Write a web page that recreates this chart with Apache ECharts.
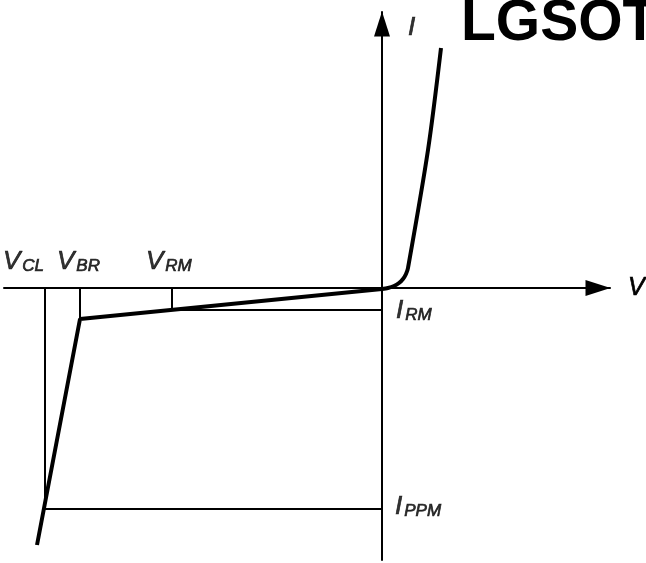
<!DOCTYPE html>
<html>
<head>
<meta charset="utf-8">
<title>TVS I-V characteristic</title>
<script src="https://cdn.jsdelivr.net/npm/echarts@6/dist/echarts.min.js"></script>
<style>
  html, body { margin: 0; padding: 0; background: #fff; }
  #main { width: 646px; height: 563px; }
</style>
</head>
<body>
<div id="main"></div>
<script>
    // 特征点 (V, I)
    var vCL = -33.7, vBR = -30.2, vRM = -21.0;
    var iRM = -2.2, iPPM = -22.1;

    // 反向曲线：击穿区 -> 原点
    var reverseCurve = [[-34.5, -25.7], [-30.2, -3.1], [0, -0.1]];
    // 正向曲线
    var forwardCurve = [[0, -0.1], [0.6, 0], [1.2, 0.2], [1.7, 0.5], [2.1, 0.9],
                        [2.4, 1.4], [2.6, 2.0], [4.6, 13.8], [5.9, 24.0]];

    // 参考线段
    var guides = [
        [[vCL, 0], [vCL, iPPM]],
        [[vBR, 0], [vBR, -3.1]],
        [[vRM, 0], [vRM, iRM]],
        [[vRM, iRM], [0, iRM]],
        [[vCL, iPPM], [0, iPPM]]
    ];

    // 文字标注：名称, 下标, 位置
    var labelNames = ['V', 'V', 'V', 'I', 'I', 'I'];
    var labelSubs = ['CL', 'BR', 'RM', '', 'RM', 'PPM'];
    var labelPos = [[-37.9, 2.6], [-32.5, 2.6], [-23.6, 2.6], [2.6, 26.0], [1.4, -2.3], [1.3, -21.9]];

    var myChart = echarts.init(document.getElementById('main'));

    var lineSeries = [];
    guides.forEach(function (seg) {
        lineSeries.push({
            type: 'line',
            data: seg,
            showSymbol: false,
            silent: true,
            lineStyle: { color: '#000', width: 2 }
        });
    });

    var txt = { fontFamily: 'Liberation Sans', fontStyle: 'italic', color: '#000', textBorderColor: '#000', textBorderWidth: 0.7 };

    var option = {
        backgroundColor: '#fff',
        animation: false,
        grid: { left: 4, right: 36, top: 12, bottom: 3, containLabel: false, outerBoundsMode: 'none' },
        xAxis: {
            type: 'value',
            min: -37.8,
            max: 22.8,
            name: 'V',
            nameLocation: 'end',
            nameGap: 18,
            nameTextStyle: Object.assign({ fontSize: 25 }, txt),
            axisLine: { onZero: true, lineStyle: { color: '#000', width: 2 }, symbol: ['none', 'triangle'], symbolSize: [16, 25], symbolOffset: [0, -12] },
            axisTick: { show: false },
            axisLabel: { show: false },
            splitLine: { show: false }
        },
        yAxis: {
            type: 'value',
            min: -27.2,
            max: 27.6,
            axisLine: { onZero: true, lineStyle: { color: '#000', width: 2 }, symbol: ['none', 'triangle'], symbolSize: [16, 25], symbolOffset: [0, -12] },
            axisTick: { show: false },
            axisLabel: { show: false },
            splitLine: { show: false }
        },
        graphic: [{
            type: 'text',
            left: 461,
            top: -4,
            style: { text: 'LGSOT', fontFamily: 'Liberation Sans', fontWeight: 'bold', fontSize: 57, fill: '#000' }
        }],
        series: lineSeries.concat([
            {
                type: 'line',
                data: reverseCurve,
                showSymbol: false,
                lineStyle: { color: '#000', width: 4 }
            },
            {
                type: 'line',
                data: forwardCurve,
                showSymbol: false,
                smooth: 0.3,
                lineStyle: { color: '#000', width: 4 }
            },
            {
                type: 'scatter',
                clip: false,
                symbolSize: 0,
                data: labelPos.map(function (p, i) {
                    return { value: p, name: labelNames[i] };
                }),
                label: {
                    show: true,
                    position: [0, 0],
                    align: 'left',
                    verticalAlign: 'middle',
                    formatter: function (p) {
                        var s = labelSubs[p.dataIndex];
                        return '{m|' + p.name + '}' + (s ? '{s|' + s + '}' : '');
                    },
                    rich: {
                        m: Object.assign({ fontSize: 26, lineHeight: 26, verticalAlign: 'bottom' }, txt),
                        s: Object.assign({ fontSize: 17, lineHeight: 26, verticalAlign: 'bottom', padding: [0, 0, 0, 2] }, txt)
                    }
                }
            }
        ])
    };

    myChart.setOption(option);
</script>
</body>
</html>
